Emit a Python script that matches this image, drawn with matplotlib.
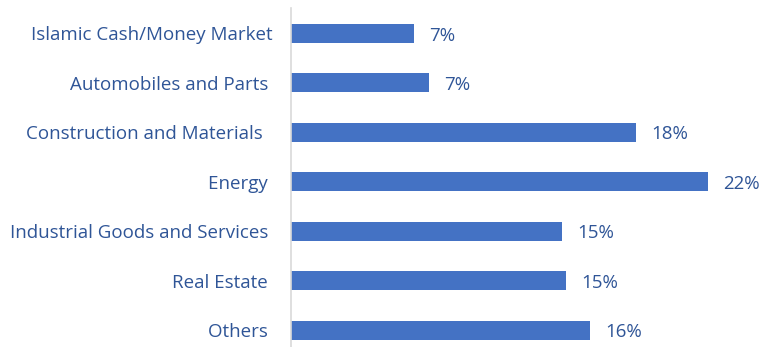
import matplotlib.pyplot as plt

categories = ["Islamic Cash/Money Market", "Automobiles and Parts ",
              "Construction and Materials  ", "Energy ",
              "Industrial Goods and Services ", "Real Estate ", "Others "]
values = [6.5, 7.3, 18.2, 22.0, 14.3, 14.5, 15.8]
value_labels = ["7%", "7%", "18%", "22%", "15%", "15%", "16%"]

bar_color = "#4472C4"
text_color = "#2F5597"

plt.rcParams['font.family'] = ['Open Sans', 'DejaVu Sans']

fig = plt.figure(figsize=(7.73, 3.47), dpi=100)
ax = fig.add_axes([291 / 773, 0, 469 / 773, 339 / 347])

pos = list(range(len(categories)))
ax.barh(pos, values, height=0.385, color=bar_color)

for p, v, lab in zip(pos, values, value_labels):
    ax.annotate(lab, (v, p), xytext=(11, -1.5), textcoords="offset points",
                va="center", ha="left", fontsize=13.5, color=text_color)

ax.set_xlim(0, 24.75)
ax.set_ylim(6.343, -0.515)
ax.set_yticks(pos)
ax.set_yticklabels(categories, fontsize=13.5, color=text_color)
ax.tick_params(axis="y", length=0, pad=13)
ax.set_xticks([])

for s in ["top", "right", "bottom"]:
    ax.spines[s].set_visible(False)
ax.spines["left"].set_color("#D9D9D9")
ax.spines["left"].set_linewidth(1.2)

fig.savefig("out.png", dpi=100)
